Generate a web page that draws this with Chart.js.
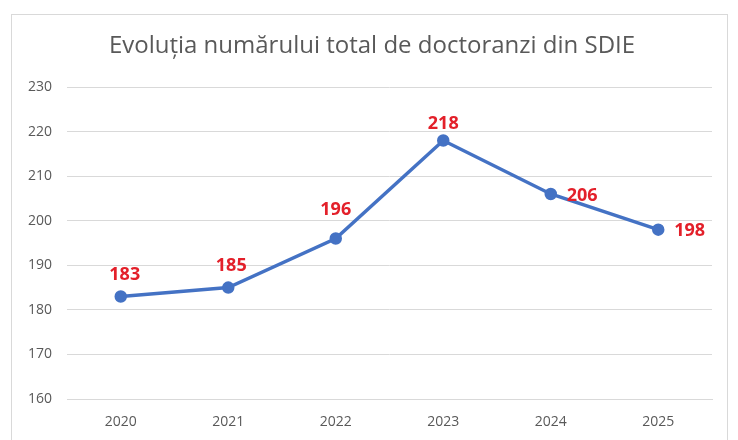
<!DOCTYPE html>
<html>
<head>
<meta charset="utf-8">
<script src="https://cdn.jsdelivr.net/npm/chart.js@4"></script>
<style>
  html, body { margin: 0; padding: 0; background: #fff; }
  #c { display: block; }
</style>
</head>
<body>
<canvas id="c" width="738" height="440"></canvas>
<script>
const years = ['2020', '2021', '2022', '2023', '2024', '2025'];
const doctoranzi = [183, 185, 196, 218, 206, 198];
const yTicks = [160, 170, 180, 190, 200, 210, 220, 230];
const chartTitle = 'Evoluția numărului total de doctoranzi din SDIE';

// where each value label sits relative to its point
const labelPlace = [
  { dx: 4, dy: -22, align: 'center' },
  { dx: 3, dy: -22, align: 'center' },
  { dx: 0, dy: -29, align: 'center' },
  { dx: 0, dy: -17, align: 'center' },
  { dx: 16, dy: 2, align: 'left' },
  { dx: 16, dy: 1, align: 'left' },
];

const FONT = '"Open Sans", "Liberation Sans", sans-serif';

// white background, light frame and the title (centred on the frame)
const frame = {
  id: 'frame',
  beforeDraw(chart) {
    const ctx = chart.ctx;
    ctx.save();
    ctx.fillStyle = '#fff';
    ctx.fillRect(0, 0, chart.width, chart.height);
    ctx.strokeStyle = '#d9d9d9';
    ctx.lineWidth = 1;
    ctx.strokeRect(11.5, 14.5, 716, 440);
    ctx.fillStyle = '#595959';
    ctx.font = '24px ' + FONT;
    ctx.textAlign = 'center';
    ctx.textBaseline = 'middle';
    ctx.fillText(chartTitle, 372, 46);
    ctx.restore();
  },
};

const valueLabels = {
  id: 'valueLabels',
  afterDatasetsDraw(chart) {
    const ctx = chart.ctx;
    const meta = chart.getDatasetMeta(0);
    ctx.save();
    ctx.font = 'bold 18px ' + FONT;
    ctx.fillStyle = '#e3202a';
    ctx.textBaseline = 'middle';
    meta.data.forEach((pt, i) => {
      const p = labelPlace[i];
      ctx.textAlign = p.align;
      ctx.fillText(String(doctoranzi[i]), pt.x + p.dx, pt.y + p.dy);
    });
    ctx.restore();
  },
};

new Chart(document.getElementById('c'), {
  type: 'line',
  data: {
    labels: years,
    datasets: [{
      label: 'Doctoranzi',
      data: doctoranzi,
      borderColor: '#4472c4',
      backgroundColor: '#4472c4',
      borderWidth: 3.5,
      pointRadius: 4.5,
      pointBackgroundColor: '#4472c4',
      pointBorderColor: '#4472c4',
      tension: 0,
    }],
  },
  options: {
    responsive: false,
    animation: false,
    layout: { padding: { left: 0, right: 26, top: 87, bottom: 0 } },
    scales: {
      x: {
        offset: true,
        grid: { display: false, drawTicks: false },
        border: { display: true, color: '#d9d9d9', width: 1 },
        ticks: {
          color: '#595959',
          font: { size: 14, family: FONT },
          padding: 15,
        },
        afterFit(scale) { scale.height = 41; },
      },
      y: {
        min: 160,
        max: 230,
        afterBuildTicks(scale) { scale.ticks = yTicks.map(v => ({ value: v })); },
        grid: { color: '#d9d9d9', lineWidth: 1, drawTicks: false },
        border: { display: false },
        ticks: {
          color: '#595959',
          font: { size: 14, family: FONT },
          padding: 15,
        },
        afterFit(scale) { scale.width = 67; },
      },
    },
    plugins: {
      legend: { display: false },
      tooltip: { enabled: false },
      title: { display: false },
    },
  },
  plugins: [frame, valueLabels],
});
</script>
</body>
</html>
